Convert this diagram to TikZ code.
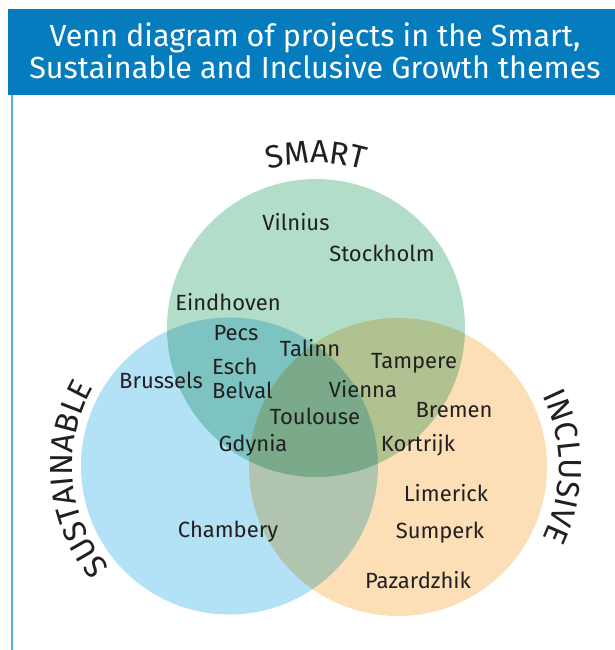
\documentclass[tikz,border=0pt]{standalone}
\usepackage{fontspec}
\setmainfont{Fira Sans}
\usetikzlibrary{decorations.text}
\definecolor{titleblue}{RGB}{5,124,190}
\definecolor{lineblue}{RGB}{90,172,222}
\definecolor{greenfill}{RGB}{178,222,201}
\definecolor{bluefill}{RGB}{179,225,245}
\definecolor{orangefill}{RGB}{252,223,183}
\definecolor{darktext}{RGB}{35,31,32}
\tikzset{
  city/.style={font=\fontsize{22}{24}\selectfont, text=darktext, inner sep=0pt},
  theme/.style={decorate, decoration={text along path, text align=center,
    text={|\fontsize{32}{32}\selectfont\color{darktext}|#1}}}
}

\begin{document}
\begin{tikzpicture}[x=1pt,y=1pt]
\useasboundingbox (0,0) rectangle (615,650);
\fill[white] (0,0) rectangle (615,650);
\fill[titleblue] (8,555) rectangle (615,641);
\draw[lineblue, line width=2pt] (12,555) -- (12,0);
\node[text=white, font=\fontsize{30.5}{32}\selectfont, align=center] (title) at (315,599)
  {Venn diagram of projects in the Smart,\\Sustainable and Inclusive Growth themes};
\coordinate (smart) at (316,322);
\coordinate (sust) at (229.5,184);
\coordinate (incl) at (398,183);
\begin{scope}[blend group=multiply]
\fill[greenfill] (smart) circle[radius=149pt];
\fill[bluefill] (sust) circle[radius=148.5pt];
\fill[orangefill] (incl) circle[radius=149pt];
\end{scope}
\path[theme=SMART] ([shift={(110:165pt)}]smart) arc[start angle=110, end angle=70, radius=165pt];
\path[theme=SUSTAINABLE] ([shift={(230:157pt)}]sust) arc[start angle=230, end angle=140, radius=157pt];
\path[theme=INCLUSIVE] ([shift={(45:161pt)}]incl) arc[start angle=45, end angle=-45, radius=161pt];
\node[city] (vilnius) at (296,428) {Vilnius};
\node[city] (stockholm) at (382,397) {Stockholm};
\node[city] (eindhoven) at (228,348) {Eindhoven};
\node[city] (pecs) at (236,317) {Pecs};
\node[city] (talinn) at (310,302) {Talinn};
\node[city, anchor=west, align=left] (esch) at (212,271.5) {Esch\\Belval};
\node[city] (tampere) at (414,287) {Tampere};
\node[city] (vienna) at (363,261) {Vienna};
\node[city] (toulouse) at (315,234) {Toulouse};
\node[city] (bremen) at (454,240) {Bremen};
\node[city] (gdynia) at (253,205) {Gdynia};
\node[city] (kortrijk) at (418,205) {Kortrijk};
\node[city] (brussels) at (161,270) {Brussels};
\node[city] (limerick) at (446,157) {Limerick};
\node[city] (sumperk) at (440,117) {Sumperk};
\node[city] (pazardzhik) at (418,70) {Pazardzhik};
\node[city] (chambery) at (228,118) {Chambery};
\end{tikzpicture}
\end{document}
